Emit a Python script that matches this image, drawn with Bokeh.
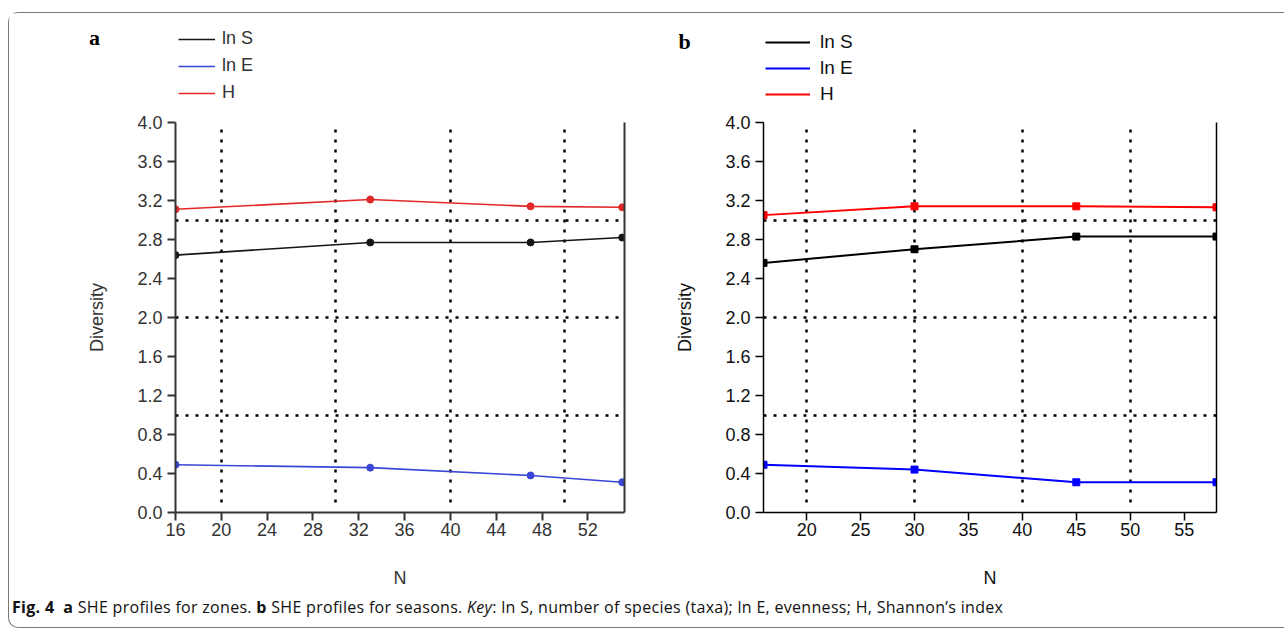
from bokeh.plotting import figure
from bokeh.models import (Legend, LegendItem, LinearAxis, FixedTicker, Label,
                          Range1d, Div, PrintfTickFormatter, Grid)
from bokeh.layouts import row, column
from bokeh.embed import file_html
from bokeh.resources import INLINE

# ---------------- data ----------------
series_names = ["ln S", "ln E", "H"]

zones_N = [16, 33, 47, 55]
zones_lnS = [2.64, 2.77, 2.77, 2.82]
zones_lnE = [0.49, 0.46, 0.38, 0.31]
zones_H = [3.11, 3.21, 3.14, 3.13]

seasons_N = [16, 30, 45, 58]
seasons_lnS = [2.56, 2.70, 2.83, 2.83]
seasons_lnE = [0.49, 0.44, 0.31, 0.31]
seasons_H = [3.05, 3.14, 3.14, 3.13]

y_ticks = [0.0, 0.4, 0.8, 1.2, 1.6, 2.0, 2.4, 2.8, 3.2, 3.6, 4.0]
x_ticks_a = [16, 20, 24, 28, 32, 36, 40, 44, 48, 52]
x_ticks_b = [20, 25, 30, 35, 40, 45, 50, 55]
grid_x = [20, 30, 40, 50]
grid_y = [1, 2, 3, 4]

colors_a = ["#151515", "#3a46d6", "#e02828"]
colors_b = ["#000000", "#0000ff", "#ff0000"]

FONT = "Liberation Sans"
HAS_CROSS = "cross_bounds" in Grid.properties()
NAN = float("nan")


def make_panel(N, lnS, lnE, H, xticks, x_end, width, mbl, mbr, mbt, mbb,
               colors, axis_col, axis_w, text_col, line_w, marker, msize):
    p = figure(width=width, height=477, x_range=Range1d(16, x_end),
               y_range=Range1d(0, 4), output_backend="svg", toolbar_location=None,
               min_border_left=mbl, min_border_right=mbr, min_border_top=mbt,
               min_border_bottom=mbb, outline_line_color=None,
               background_fill_color="white", border_fill_color="white")
    p.xgrid.ticker = FixedTicker(ticks=grid_x)
    p.ygrid.ticker = FixedTicker(ticks=grid_y)
    for g in (p.xgrid, p.ygrid):
        g.grid_line_color = "black"
        g.grid_line_dash = "3 7"
        g.grid_line_width = 2.5
    if HAS_CROSS:
        p.xgrid.cross_bounds = (0.1, 4)

    p.xaxis.ticker = FixedTicker(ticks=xticks)
    p.yaxis.ticker = FixedTicker(ticks=y_ticks)
    p.yaxis.formatter = PrintfTickFormatter(format="%.1f")
    p.xaxis.axis_label = "N"
    p.yaxis.axis_label = "Diversity"
    for ax in (p.xaxis, p.yaxis):
        ax.axis_line_color = axis_col
        ax.axis_line_width = axis_w
        ax.major_tick_line_color = axis_col
        ax.major_tick_line_width = axis_w
        ax.major_tick_in = 0
        ax.major_tick_out = 8
        ax.minor_tick_line_color = None
        ax.major_label_text_font = FONT
        ax.major_label_text_font_size = "18px"
        ax.major_label_text_color = text_col
        ax.axis_label_text_font = FONT
        ax.axis_label_text_font_size = "18px"
        ax.axis_label_text_font_style = "normal"
        ax.axis_label_text_color = text_col
    p.xaxis.major_label_standoff = 2
    p.xaxis.axis_label_standoff = 29
    p.yaxis.major_label_standoff = 5
    p.yaxis.axis_label_standoff = 27

    ra = LinearAxis(ticker=FixedTicker(ticks=[]), axis_line_color=axis_col,
                    axis_line_width=axis_w, major_tick_line_color=None,
                    minor_tick_line_color=None, major_label_text_font_size="0px")
    p.add_layout(ra, "right")

    for vals, col in zip((lnS, lnE, H), colors):
        p.line(N, vals, line_color=col, line_width=line_w)
        p.scatter(N, vals, marker=marker, size=msize, fill_color=col, line_color=col)
    return p


pa = make_panel(zones_N, zones_lnS, zones_lnE, zones_H, x_ticks_a, 55.2, 646,
                166, 31, 8, 77, colors_a, "#333333", 2, "#333333", 1.6, "circle", 7)
pb = make_panel(seasons_N, seasons_lnS, seasons_lnE, seasons_H, x_ticks_b, 58, 629,
                108, 68, 9, 76, colors_b, "#000000", 1.5, "#111111", 2, "square", 7)

# ---------------- header: panel letters and keys ----------------
hdr = figure(width=1275, height=100, x_range=Range1d(0, 1275), y_range=Range1d(100, 0),
             output_backend="svg", toolbar_location=None, min_border=0,
             x_axis_type=None, y_axis_type=None, outline_line_color=None,
             background_fill_color="white", border_fill_color="white")
hdr.xgrid.visible = False
hdr.ygrid.visible = False


def key(colors, line_w, loc, glyph_w, standoff, font_size, spacing, text_col):
    rs = [hdr.line(x=[NAN], y=[NAN], line_color=c, line_width=line_w) for c in colors]
    lg = Legend(items=[LegendItem(label=n, renderers=[r]) for n, r in zip(series_names, rs)],
                location=loc, orientation="vertical", background_fill_alpha=0,
                border_line_color=None, padding=0, margin=0, spacing=spacing,
                glyph_width=glyph_w, glyph_height=20, label_height=20,
                label_standoff=standoff, label_text_font=FONT,
                label_text_font_size=font_size, label_text_color=text_col)
    hdr.add_layout(lg)


key(colors_a, 1.6, (169, 10), 37, 7, "18px", 6, "#333333")
key(colors_b, 2, (756, 8), 45, 10, "19px", 4, "#111111")

for letter, lx, ly in (("a", 85, 24), ("b", 675, 28)):
    hdr.add_layout(Label(x=lx, y=ly, text=letter, text_font="Liberation Serif",
                         text_font_style="bold", text_font_size="22px",
                         text_align="center", text_baseline="middle", text_color="black"))

caption = Div(
    text=('<b>Fig. 4</b>&nbsp; <b>a</b> SHE profiles for zones. <b>b</b> SHE profiles '
          'for seasons. <i>Key</i>: ln S, number of species (taxa); ln E, evenness; '
          'H, Shannon\u2019s index'),
    width=1270, height=37, margin=(0, 0, 0, 0),
    styles={"font-family": "Open Sans", "font-size": "16px", "letter-spacing": "0.3px",
            "color": "#111", "padding-top": "6px", "padding-left": "3px",
            "white-space": "nowrap"})

layout = column(hdr, row(pa, pb), caption, margin=(12, 0, 0, 8),
                styles={"border-top": "1px solid #777", "border-left": "1px solid #777",
                        "border-bottom": "1px solid #777",
                        "border-radius": "10px 0 0 10px"})

open("out.html", "w").write(file_html(layout, INLINE))
